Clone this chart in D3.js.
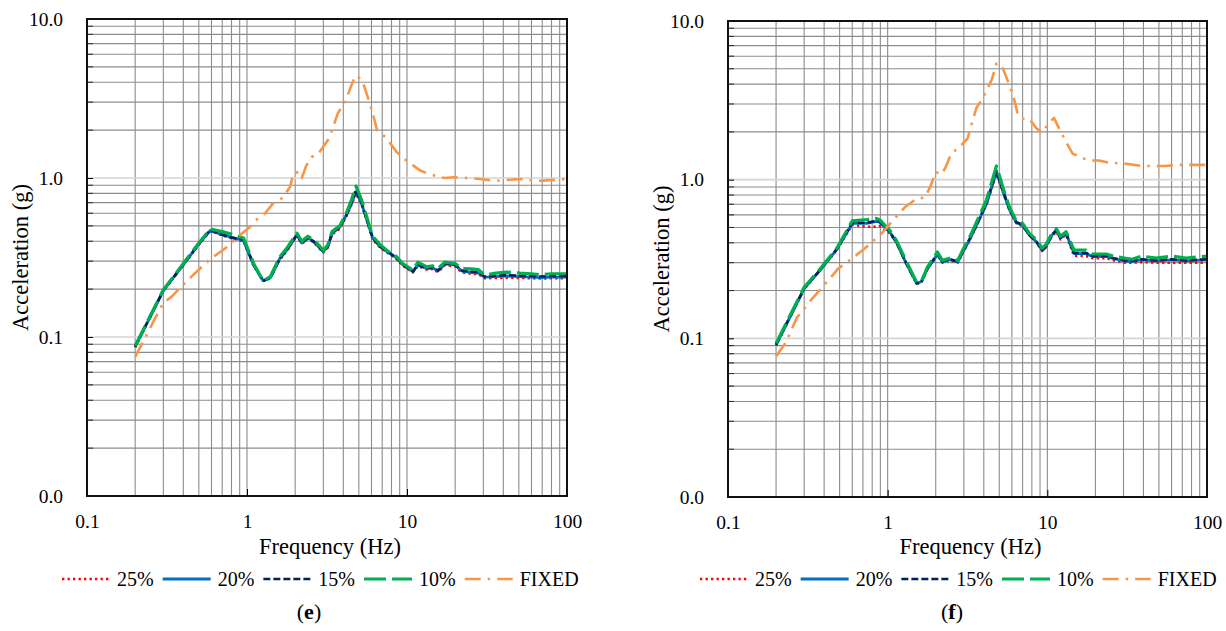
<!DOCTYPE html>
<html>
<head>
<meta charset="utf-8">
<script src="https://cdn.jsdelivr.net/npm/d3@7"></script>
<style>
  html, body { margin: 0; padding: 0; background: #fff; }
  svg { display: block; }
</style>
</head>
<body>
<svg id="chart" width="1226" height="631" font-family="Liberation Serif"></svg>
<script>
// ---- Panel (e): frequency grid and spectral acceleration (g) ----
const freqE = [0.2, 0.3, 0.4, 0.5, 0.59, 0.7, 0.82, 0.95, 1.1, 1.26, 1.4, 1.6, 1.8, 2.05, 2.2, 2.4, 2.6, 2.8, 3.0, 3.2,
  3.4, 3.8, 4.2, 4.5, 4.8, 5.2, 5.6, 6.1, 6.8, 7.5, 8.6, 9.4, 10.9, 11.7, 13.3, 14.5, 15.6, 17.3, 20, 22,
  25, 28, 30.5, 36, 42, 51, 60, 68, 80, 100];
const r25E = [0.086, 0.195, 0.283, 0.38, 0.465, 0.435, 0.415, 0.40, 0.28, 0.228, 0.237, 0.305, 0.355, 0.435, 0.385, 0.415, 0.395, 0.365, 0.34, 0.365,
  0.44, 0.48, 0.58, 0.68, 0.80, 0.68, 0.54, 0.41, 0.365, 0.34, 0.31, 0.28, 0.255, 0.28, 0.265, 0.268, 0.256, 0.283, 0.278, 0.255,
  0.25, 0.248, 0.234, 0.235, 0.236, 0.235, 0.234, 0.233, 0.234, 0.234];
const b20E = [0.087, 0.196, 0.285, 0.385, 0.468, 0.44, 0.42, 0.405, 0.283, 0.226, 0.236, 0.31, 0.36, 0.44, 0.39, 0.42, 0.40, 0.37, 0.345, 0.37,
  0.45, 0.49, 0.59, 0.69, 0.82, 0.69, 0.55, 0.42, 0.37, 0.345, 0.315, 0.285, 0.258, 0.285, 0.27, 0.272, 0.26, 0.288, 0.283, 0.26,
  0.255, 0.252, 0.238, 0.24, 0.242, 0.24, 0.238, 0.236, 0.238, 0.238];
const n15E = [0.087, 0.196, 0.285, 0.385, 0.47, 0.44, 0.42, 0.41, 0.285, 0.225, 0.235, 0.31, 0.36, 0.44, 0.39, 0.42, 0.40, 0.37, 0.345, 0.37,
  0.45, 0.49, 0.59, 0.70, 0.84, 0.70, 0.55, 0.42, 0.37, 0.345, 0.315, 0.285, 0.258, 0.285, 0.27, 0.275, 0.262, 0.29, 0.285, 0.262,
  0.258, 0.255, 0.24, 0.243, 0.245, 0.243, 0.242, 0.24, 0.242, 0.242];
const g10E = [0.088, 0.198, 0.29, 0.39, 0.478, 0.46, 0.44, 0.42, 0.29, 0.225, 0.24, 0.318, 0.37, 0.45, 0.40, 0.43, 0.41, 0.38, 0.35, 0.38,
  0.46, 0.50, 0.61, 0.73, 0.89, 0.73, 0.57, 0.43, 0.38, 0.35, 0.32, 0.29, 0.264, 0.296, 0.276, 0.28, 0.27, 0.296, 0.29, 0.27,
  0.268, 0.265, 0.245, 0.252, 0.256, 0.252, 0.25, 0.246, 0.25, 0.25];
const fixFreqE = [0.2, 0.23, 0.26, 0.3, 0.34, 0.38, 0.46, 0.59, 0.73, 0.86, 1.04, 1.1, 1.3, 1.45, 1.67, 1.86, 1.95, 2.1, 2.2, 2.35,
  2.55, 2.8, 2.95, 3.2, 3.4, 3.7, 4.1, 4.5, 4.7, 4.9, 5.3, 5.7, 6.1, 6.5, 7.1, 7.6, 8.6, 9.4, 10.9, 12,
  13.4, 16.1, 17.3, 19.4, 24, 28.5, 36, 51, 68, 100];
const fixE = [0.075, 0.098, 0.125, 0.164, 0.18, 0.203, 0.245, 0.31, 0.36, 0.42, 0.49, 0.53, 0.6, 0.69, 0.75, 0.88, 1.07, 1.09, 1.0, 1.2,
  1.36, 1.43, 1.54, 1.73, 2.0, 2.56, 3.0, 3.84, 4.3, 4.4, 4.0, 3.2, 2.56, 2.0, 1.86, 1.73, 1.46, 1.34, 1.2, 1.12,
  1.07, 1.01, 1.0, 1.01, 1.0, 0.985, 0.96, 0.985, 0.96, 0.985];

// ---- Panel (f) ----
const freqF = [0.2, 0.3, 0.38, 0.48, 0.6, 0.74, 0.85, 0.89, 1.03, 1.14, 1.3, 1.52, 1.63, 1.77, 2.05, 2.2, 2.45, 2.75, 2.95, 3.25,
  3.6, 4.15, 4.8, 5.35, 5.8, 6.4, 7.0, 7.7, 8.5, 9.3, 9.8, 10.7, 11.4, 12.1, 13.1, 14.7, 17.5, 19.2, 23.4, 26,
  30.5, 34, 39, 48, 60, 74, 100];
const r25F = [0.09, 0.205, 0.27, 0.36, 0.52, 0.505, 0.505, 0.51, 0.46, 0.40, 0.30, 0.22, 0.226, 0.27, 0.335, 0.30, 0.31, 0.30, 0.345, 0.41,
  0.51, 0.69, 1.08, 0.80, 0.64, 0.53, 0.51, 0.445, 0.405, 0.355, 0.375, 0.44, 0.47, 0.42, 0.45, 0.33, 0.33, 0.32, 0.32, 0.31,
  0.30, 0.30, 0.302, 0.30, 0.30, 0.30, 0.30];
const b20F = [0.091, 0.206, 0.271, 0.363, 0.53, 0.53, 0.545, 0.54, 0.468, 0.40, 0.30, 0.222, 0.228, 0.274, 0.338, 0.303, 0.313, 0.303, 0.348, 0.418,
  0.515, 0.70, 1.12, 0.81, 0.645, 0.535, 0.515, 0.448, 0.408, 0.358, 0.378, 0.448, 0.478, 0.428, 0.458, 0.342, 0.342, 0.328, 0.328, 0.318,
  0.308, 0.305, 0.312, 0.308, 0.312, 0.308, 0.312];
const n15F = [0.091, 0.207, 0.272, 0.365, 0.535, 0.535, 0.55, 0.545, 0.47, 0.40, 0.30, 0.222, 0.228, 0.275, 0.34, 0.305, 0.315, 0.305, 0.35, 0.42,
  0.52, 0.71, 1.14, 0.82, 0.65, 0.54, 0.52, 0.45, 0.41, 0.36, 0.38, 0.45, 0.48, 0.43, 0.46, 0.345, 0.345, 0.33, 0.33, 0.32,
  0.31, 0.307, 0.315, 0.31, 0.315, 0.31, 0.315];
const g10F = [0.093, 0.21, 0.276, 0.37, 0.55, 0.56, 0.57, 0.56, 0.48, 0.41, 0.31, 0.225, 0.23, 0.28, 0.35, 0.31, 0.32, 0.31, 0.36, 0.43,
  0.54, 0.74, 1.22, 0.85, 0.67, 0.55, 0.53, 0.46, 0.42, 0.37, 0.39, 0.46, 0.49, 0.44, 0.47, 0.36, 0.36, 0.34, 0.34, 0.33,
  0.32, 0.315, 0.33, 0.32, 0.33, 0.32, 0.33];
const fixFreqF = [0.2, 0.23, 0.27, 0.34, 0.39, 0.49, 0.6, 0.7, 0.81, 0.93, 1.07, 1.28, 1.52, 1.7, 1.84, 2.0, 2.17, 2.3, 2.5, 2.8,
  3.16, 3.4, 3.6, 3.9, 4.2, 4.5, 4.8, 5.2, 5.6, 6.1, 6.5, 6.9, 7.7, 8.5, 9.3, 10, 11, 11.8, 13.3, 14.4,
  16.6, 18.3, 21, 24.3, 31, 39, 55, 68, 100];
const fixF = [0.077, 0.094, 0.135, 0.18, 0.21, 0.275, 0.32, 0.36, 0.41, 0.465, 0.55, 0.67, 0.76, 0.77, 0.89, 1.12, 1.08, 1.19, 1.46, 1.6,
  1.81, 2.35, 2.84, 3.2, 3.7, 4.3, 5.4, 5.2, 4.3, 3.4, 2.64, 2.42, 2.42, 2.12, 1.97, 2.2, 2.45, 2.12, 1.68, 1.46,
  1.37, 1.32, 1.32, 1.28, 1.26, 1.22, 1.22, 1.24, 1.24];

// ---- Shared labels and ticks ----
const seriesNames = ["25%", "20%", "15%", "10%", "FIXED"];
const xTicks = [0.1, 1, 10, 100];
const yTicks = [0.01, 0.1, 1, 10];
const xTitle = "Frequency (Hz)";
const yTitle = "Acceleration (g)";
const captions = ["e", "f"];

const SERIF = "Liberation Serif";

// line styles per series (same order as seriesNames)
const styles = [
  { color: "#ff0000", width: 2.5, dash: "2.3,3.2" },
  { color: "#0070c0", width: 2.8, dash: null },
  { color: "#002060", width: 2.6, dash: "7,3" },
  { color: "#00b050", width: 3.2, dash: "22,6" },
  { color: "#f79646", width: 2.6, dash: "16,7,2.5,7" }
];

const svg = d3.select("#chart");
svg.append("rect").attr("width", 1226).attr("height", 631).attr("fill", "#fff");

// text placed directly on the root so the serif face applies uniformly
function label(size) {
  return svg.append("text").style("font-family", SERIF).attr("font-size", size).attr("fill", "#000");
}

function drawPanel(cfg, idx) {
  const { left, right, top, bottom } = cfg;
  const x = d3.scaleLog().domain([0.1, 100]).range([left, right]);
  const y = d3.scaleLog().domain([0.01, 10]).range([bottom, top]);
  const g = svg.append("g");

  // minor grid values (2..9 in each decade)
  const minorX = [], minorY = [];
  [0.1, 1, 10].forEach(d => { for (let k = 2; k <= 9; k++) minorX.push(+(d * k).toPrecision(3)); });
  [0.01, 0.1, 1].forEach(d => { for (let k = 2; k <= 9; k++) minorY.push(+(d * k).toPrecision(3)); });

  const grid = g.append("g");
  grid.selectAll("line.vx").data(minorX.concat([1, 10])).join("line")
    .attr("x1", d => x(d)).attr("x2", d => x(d))
    .attr("y1", top).attr("y2", bottom)
    .attr("stroke", "#8c8c8c").attr("stroke-width", 1.1);
  grid.selectAll("line.hy").data(minorY).join("line")
    .attr("x1", left).attr("x2", right)
    .attr("y1", d => y(d)).attr("y2", d => y(d))
    .attr("stroke", "#8c8c8c").attr("stroke-width", 1.1);
  grid.selectAll("line.hm").data([0.1, 1]).join("line")
    .attr("x1", left).attr("x2", right)
    .attr("y1", d => y(d)).attr("y2", d => y(d))
    .attr("stroke", "#d4d4d4").attr("stroke-width", 1.6);

  // curves
  const clipId = "clip" + idx;
  svg.append("clipPath").attr("id", clipId).append("rect")
    .attr("x", left).attr("y", top).attr("width", right - left).attr("height", bottom - top);
  const line = d3.line().x(d => x(d[0])).y(d => y(d[1]));
  const curves = g.append("g").attr("clip-path", `url(#${clipId})`);
  cfg.series.forEach((s, i) => {
    const st = styles[i];
    const pts = s.f.map((f, j) => [f, s.v[j]]);
    curves.append("path").datum(pts)
      .attr("d", line)
      .attr("fill", "none")
      .attr("stroke", st.color)
      .attr("stroke-width", st.width)
      .attr("stroke-linejoin", "round")
      .attr("stroke-dasharray", st.dash);
  });

  // y axis (tick marks from the axis generator, labels set as serif text)
  const yAxis = d3.axisLeft(y).tickValues(yTicks).tickFormat(d3.format(".1f"))
    .tickSizeInner(-6).tickSizeOuter(0).tickPadding(24);
  const ya = g.append("g").attr("transform", `translate(${left},0)`).call(yAxis)
    .attr("font-family", SERIF).attr("font-size", 19.5);
  ya.select(".domain").remove();
  ya.selectAll("line").attr("stroke", "#000");
  ya.selectAll("text").style("font-family", SERIF);

  g.selectAll("line.ymt").data(minorY).join("line")
    .attr("x1", left).attr("x2", left + 6)
    .attr("y1", d => y(d)).attr("y2", d => y(d))
    .attr("stroke", "#333").attr("stroke-width", 1.1);

  // x axis
  const xAxis = d3.axisBottom(x).tickValues(xTicks).tickFormat(d => String(d))
    .tickSizeInner(-7).tickSizeOuter(0).tickPadding(18);
  const xa = g.append("g").attr("transform", `translate(0,${bottom})`).call(xAxis)
    .attr("font-family", SERIF).attr("font-size", 19.5);
  xa.select(".domain").remove();
  xa.selectAll("line").attr("stroke", "#000");
  xa.selectAll("text").style("font-family", SERIF);

  // plot border
  g.append("rect").attr("x", left).attr("y", top)
    .attr("width", right - left).attr("height", bottom - top)
    .attr("fill", "none").attr("stroke", "#111").attr("stroke-width", 2);

  // axis titles
  label(22.5).attr("x", (left + right) / 2 + 3).attr("y", cfg.xTitleY)
    .attr("text-anchor", "middle").text(xTitle);
  label(22.5).attr("transform", `translate(${left - 59},${(top + bottom) / 2}) rotate(-90)`)
    .attr("text-anchor", "middle").text(yTitle);

  // legend
  let cx = cfg.legendX;
  const ly = cfg.legendY;
  seriesNames.forEach((name, i) => {
    const st = styles[i];
    svg.append("line").attr("x1", cx).attr("x2", cx + 48)
      .attr("y1", ly).attr("y2", ly)
      .attr("stroke", st.color).attr("stroke-width", st.width)
      .attr("stroke-dasharray", st.dash);
    const t = label(20).attr("x", cx + 55).attr("y", ly + 7).text(name);
    cx = cx + 55 + t.node().getComputedTextLength() + 9;
  });

  // caption
  const cap = label(22).attr("x", cfg.captionX).attr("y", 619).attr("text-anchor", "middle");
  cap.append("tspan").text("(");
  cap.append("tspan").attr("font-weight", "bold").text(captions[idx]);
  cap.append("tspan").text(")");
}

drawPanel({
  left: 87, right: 567, top: 19, bottom: 496,
  xTitleY: 554, legendX: 62, legendY: 579, captionX: 309,
  series: [
    { f: freqE, v: r25E }, { f: freqE, v: b20E }, { f: freqE, v: n15E },
    { f: freqE, v: g10E }, { f: fixFreqE, v: fixE }
  ]
}, 0);

drawPanel({
  left: 728, right: 1207, top: 21, bottom: 497,
  xTitleY: 554, legendX: 700, legendY: 579, captionX: 952,
  series: [
    { f: freqF, v: r25F }, { f: freqF, v: b20F }, { f: freqF, v: n15F },
    { f: freqF, v: g10F }, { f: fixFreqF, v: fixF }
  ]
}, 1);
</script>
</body>
</html>
